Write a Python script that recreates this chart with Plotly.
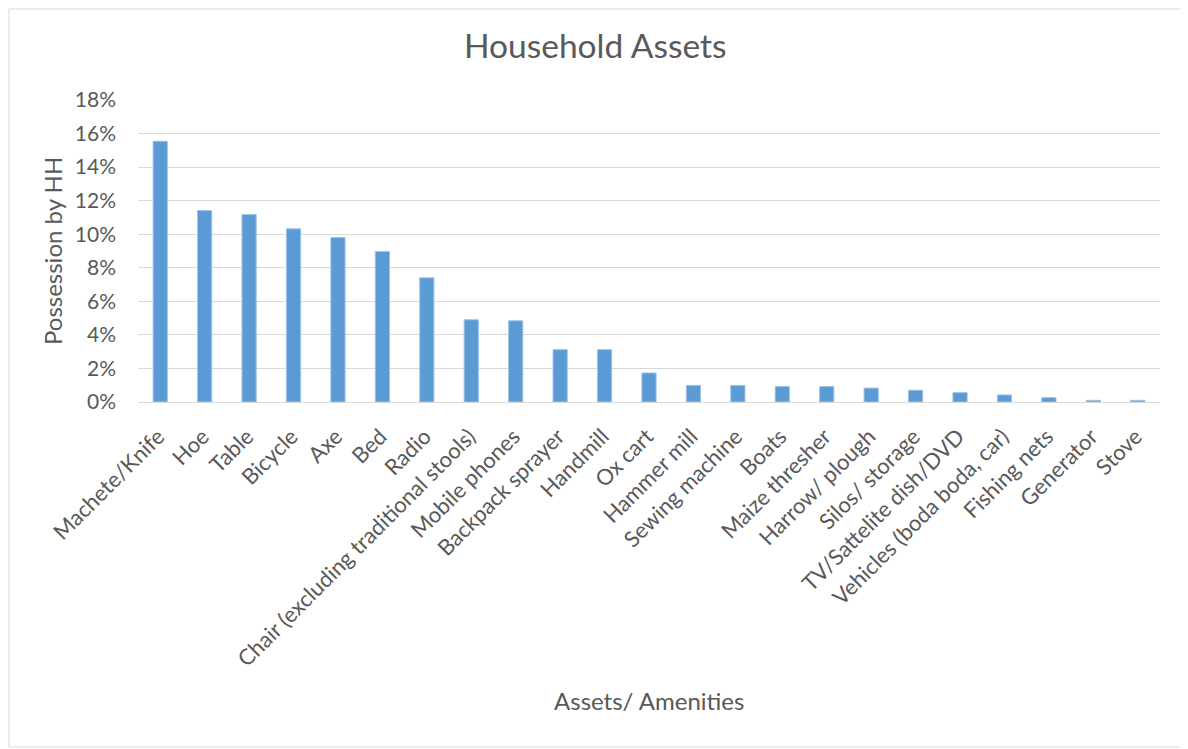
import plotly.graph_objects as go

categories = ["Machete/Knife", "Hoe", "Table", "Bicycle", "Axe", "Bed", "Radio",
              "Chair (excluding traditional stools)", "Mobile phones", "Backpack sprayer",
              "Handmill", "Ox cart", "Hammer mill", "Sewing machine", "Boats",
              "Maize thresher", "Harrow/ plough", "Silos/ storage", "TV/Sattelite dish/DVD",
              "Vehicles (boda boda, car)", "Fishing nets", "Generator", "Stove"]
values = [15.54, 11.41, 11.17, 10.32, 9.80, 8.97, 7.40, 4.90, 4.84, 3.12,
          3.12, 1.73, 0.99, 0.99, 0.92, 0.92, 0.83, 0.70, 0.56, 0.42, 0.26, 0.10, 0.10]
y_ticks = [0, 2, 4, 6, 8, 10, 12, 14, 16, 18]

FONT = "Lato"
GRAY = "#595959"

fig = go.Figure(go.Bar(
    x=categories,
    y=[v / 100 for v in values],
    marker=dict(color="#5b9bd5", line=dict(color="#9dc3e6", width=1)),
))

OFF = 8  # page body margin
W, H = 1188 - OFF, 749 - OFF
ml, mr, mt, mb = 138 - OFF, 28, 100 - OFF, 347
pw, ph = W - ml - mr, H - mt - mb

def px(xabs):
    return (xabs - OFF - ml) / pw

def py(yabs):
    return 1 - (yabs - OFF - mt) / ph

fig.update_layout(
    width=W, height=H,
    margin=dict(l=ml, r=mr, t=mt, b=mb),
    paper_bgcolor="white", plot_bgcolor="white",
    font=dict(family=FONT, color=GRAY, size=21),
    bargap=0.68,
    showlegend=False,
    xaxis=dict(tickangle=-45, showline=True, linecolor="#d9d9d9", linewidth=1,
               ticks="", tickfont=dict(size=22, color=GRAY),
               ticklabelshift=-2, ticklabelstandoff=12),
    yaxis=dict(range=[0, 0.18], tickvals=[t / 100 for t in y_ticks],
               ticktext=[f"{t}%" for t in y_ticks], gridcolor="#d9d9d9", gridwidth=1,
               zeroline=False, showline=False, ticks="", ticklabelstandoff=21,
               tickfont=dict(size=21, color=GRAY)),
    annotations=[
        dict(text="Household Assets", xref="paper", yref="paper", x=px(595), y=py(45),
             xanchor="center", yanchor="middle", showarrow=False,
             font=dict(size=33.5, color=GRAY, family=FONT)),
        dict(text="Assets/ Amenities", xref="paper", yref="paper", x=px(649), y=py(700),
             xanchor="center", yanchor="middle", showarrow=False,
             font=dict(size=24, color=GRAY, family=FONT)),
        dict(text="Possession by HH", xref="paper", yref="paper", x=px(52), y=py(251),
             xanchor="center", yanchor="middle", showarrow=False, textangle=-90,
             font=dict(size=24, color=GRAY, family=FONT)),
    ],
    shapes=[dict(type="rect", xref="paper", yref="paper",
                 x0=px(OFF + 1), x1=px(1186),
                 y0=py(747), y1=py(OFF + 1),
                 line=dict(color="#d9d9d9", width=1), fillcolor="rgba(0,0,0,0)", layer="below")],
)

fig.write_html("out.html")
